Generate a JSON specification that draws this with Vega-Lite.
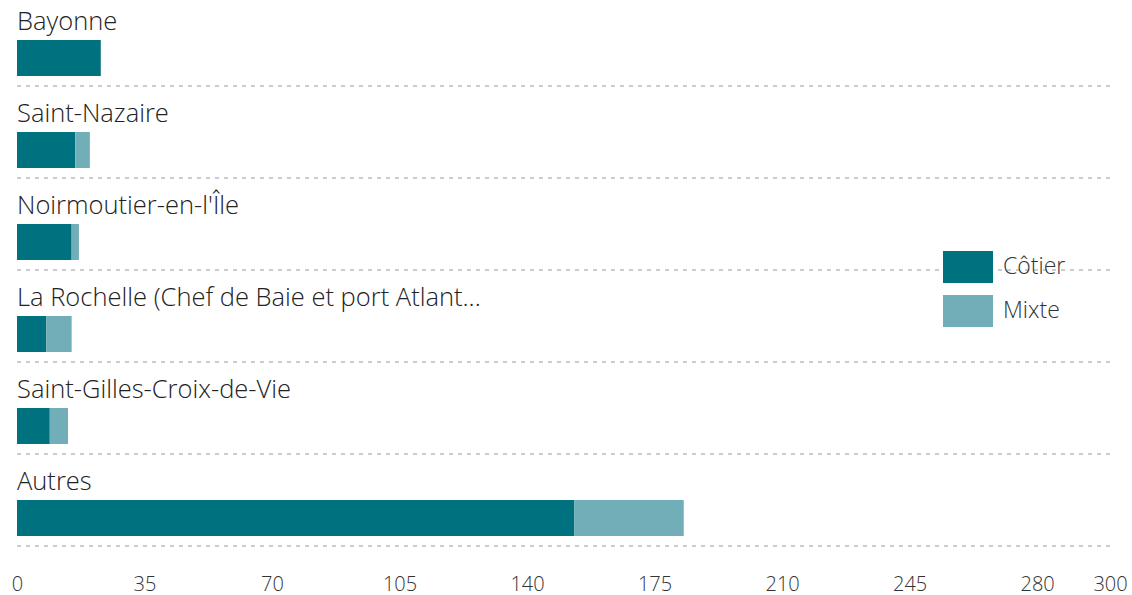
{
  "$schema": "https://vega.github.io/schema/vega-lite/v6.json",
  "autosize": {"type": "none"},
  "padding": {"left": 17, "top": 12, "right": 22, "bottom": 31},
  "width": 1093,
  "height": 552,
  "config": {"view": {"stroke": null}, "font": "Open Sans"},
  "datasets": {
    "bars": [
      {"port": "Bayonne", "type": "Côtier", "value": 23},
      {"port": "Saint-Nazaire", "type": "Côtier", "value": 16},
      {"port": "Saint-Nazaire", "type": "Mixte", "value": 4},
      {"port": "Noirmoutier-en-l'Île", "type": "Côtier", "value": 15},
      {"port": "Noirmoutier-en-l'Île", "type": "Mixte", "value": 2},
      {"port": "La Rochelle (Chef de Baie et port Atlant...", "type": "Côtier", "value": 8},
      {"port": "La Rochelle (Chef de Baie et port Atlant...", "type": "Mixte", "value": 7},
      {"port": "Saint-Gilles-Croix-de-Vie", "type": "Côtier", "value": 9},
      {"port": "Saint-Gilles-Croix-de-Vie", "type": "Mixte", "value": 5},
      {"port": "Autres", "type": "Côtier", "value": 153},
      {"port": "Autres", "type": "Mixte", "value": 30}
    ],
    "ports": [
      {"port": "Bayonne"},
      {"port": "Saint-Nazaire"},
      {"port": "Noirmoutier-en-l'Île"},
      {"port": "La Rochelle (Chef de Baie et port Atlant..."},
      {"port": "Saint-Gilles-Croix-de-Vie"},
      {"port": "Autres"}
    ]
  },
  "layer": [
    {
      "data": {"name": "ports"},
      "mark": {"type": "rule", "stroke": "#cccccc", "strokeWidth": 2, "strokeDash": [4, 5], "yOffset": 28},
      "encoding": {
        "y": {"field": "port", "type": "nominal", "sort": null, "bandPosition": 0.5,
              "scale": {"paddingInner": 0.609, "paddingOuter": 0.3045}, "axis": null}
      }
    },
    {
      "data": {"name": "bars"},
      "mark": {"type": "bar"},
      "encoding": {
        "y": {"field": "port", "type": "nominal", "sort": null, "axis": null},
        "x": {"field": "value", "type": "quantitative", "stack": "zero",
              "scale": {"domain": [0, 300], "nice": false, "zero": true},
              "axis": {"title": null, "values": [0, 35, 70, 105, 140, 175, 210, 245, 280, 300],
                       "grid": false, "domain": false, "ticks": false, "tickSize": 0,
                       "labelFlush": false, "labelPadding": 26, "labelBaseline": "alphabetic",
                       "labelFontSize": 20, "labelColor": "#333333", "labelFont": "Open Sans", "labelFontWeight": 300}},
        "color": {"field": "type", "type": "nominal",
                  "scale": {"domain": ["Côtier", "Mixte"], "range": ["#00717E", "#72AEB7"]},
                  "legend": {"title": null, "orient": "none", "legendX": 926, "legendY": 230,
                             "symbolType": "M-1,-0.64H1V0.64H-1Z", "symbolSize": 2500,
                             "symbolStrokeWidth": 0, "symbolOpacity": 1,
                             "labelFontSize": 23, "labelFont": "Open Sans", "labelFontWeight": 300, "labelColor": "#333333",
                             "labelOffset": 10, "rowPadding": 3}},
        "order": {"field": "type", "sort": "ascending"}
      }
    },
    {
      "data": {"name": "ports"},
      "mark": {"type": "text", "align": "left", "baseline": "alphabetic", "yOffset": -28,
               "fontSize": 25.5, "font": "Open Sans", "fontWeight": 300, "color": "#222222"},
      "encoding": {
        "y": {"field": "port", "type": "nominal", "sort": null, "axis": null},
        "x": {"datum": 0, "type": "quantitative"},
        "text": {"field": "port"}
      }
    }
  ]
}
